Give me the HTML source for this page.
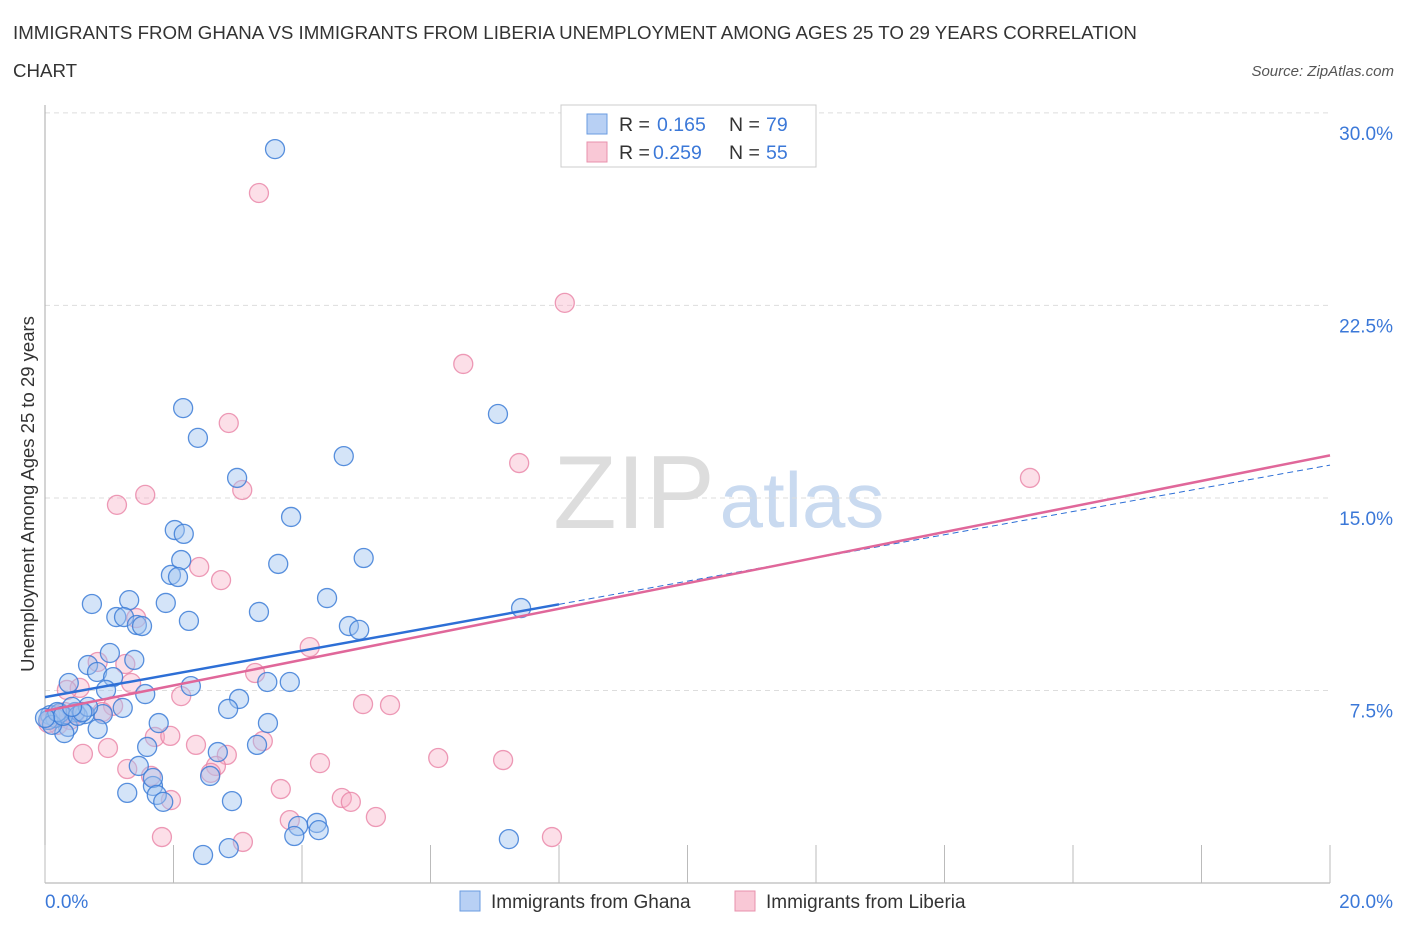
<!DOCTYPE html>
<html><head><meta charset="utf-8"><style>
body{margin:0;background:#fff;font-family:"Liberation Sans",sans-serif}
svg text{font-family:"Liberation Sans",sans-serif}
</style></head><body>
<svg id="c" width="1406" height="930">
<text x="13" y="39" font-size="18.7" fill="#333">IMMIGRANTS FROM GHANA VS IMMIGRANTS FROM LIBERIA UNEMPLOYMENT AMONG AGES 25 TO 29 YEARS CORRELATION</text>
<text x="13" y="77" font-size="18.7" fill="#333">CHART</text>
<text x="1394" y="76" font-size="15" fill="#555" font-style="italic" text-anchor="end">Source: ZipAtlas.com</text>
<text x="634" y="528" font-size="104" fill="#ddd" font-family="Liberation Serif" text-anchor="middle">ZIP</text>
<text x="802" y="527" font-size="78" fill="#c9daf0" text-anchor="middle">atlas</text>
<g id="grid"></g><g id="marks"></g>
<text transform="translate(34,494) rotate(-90)" font-size="18.5" fill="#333" text-anchor="middle">Unemployment Among Ages 25 to 29 years</text>
<text x="45" y="908" font-size="19" fill="#3b78d8">0.0%</text>
<text x="1393" y="908" font-size="19" fill="#3b78d8" text-anchor="end">20.0%</text>
<g>
<rect x="561" y="105" width="255" height="62" fill="#fff" stroke="#ccc"/>
<rect x="587" y="114" width="20" height="20" fill="#b8d0f4" stroke="#6a9be0"/>
<text x="619" y="131" font-size="19.5" fill="#333">R = </text><text x="657" y="131" font-size="19.5" fill="#3b78d8">0.165</text>
<text x="729" y="131" font-size="19.5" fill="#333">N = </text><text x="766" y="131" font-size="19.5" fill="#3b78d8">79</text>
<rect x="587" y="142" width="20" height="20" fill="#f9c8d6" stroke="#e891ac"/>
<text x="619" y="159" font-size="19.5" fill="#333">R = </text><text x="653" y="159" font-size="19.5" fill="#3b78d8">0.259</text>
<text x="729" y="159" font-size="19.5" fill="#333">N = </text><text x="766" y="159" font-size="19.5" fill="#3b78d8">55</text>
</g>
<g>
<rect x="460" y="891" width="20" height="20" fill="#b8d0f4" stroke="#6a9be0"/>
<text x="491" y="908" font-size="19" fill="#333">Immigrants from Ghana</text>
<rect x="735" y="891" width="20" height="20" fill="#f9c8d6" stroke="#e891ac"/>
<text x="766" y="908" font-size="19" fill="#333">Immigrants from Liberia</text>
</g>
</svg>
<script>
const yTicks=[7.5,15,22.5,30];
const yTickLabels=["7.5%","15.0%","22.5%","30.0%"];
const xTicks=[0,2,4,6,8,10,12,14,16,18,20];
const ghanaX=[3.58,2.15,2.38,2.99,3.83,4.65,7.05,2.02,2.16,2.12,1.96,2.07,3.63,4.96,0.73,1.31,1.88,1.11,1.23,1.43,1.51,2.24,3.33,4.39,4.73,4.89,7.41,1.01,1.39,0.67,0.81,0.37,1.06,0.95,1.56,2.27,3.02,3.46,3.81,2.85,1.21,0.90,0.62,0.47,0.36,0.82,0.30,1.77,3.47,1.59,2.69,3.30,1.46,1.68,1.68,1.28,1.74,1.84,2.57,2.91,3.94,4.23,4.26,3.88,7.22,2.46,2.86,0.08,0.16,0.23,0.05,0.11,0.19,0.28,0.51,0.67,0.58,0.42,0.0];
const ghanaY=[28.59,18.50,17.34,15.78,14.26,16.63,18.27,13.75,13.60,12.58,12.00,11.92,12.43,12.66,10.87,11.02,10.91,10.36,10.36,10.05,10.01,10.21,10.56,11.10,10.01,9.86,10.71,8.96,8.69,8.49,8.22,7.79,8.02,7.52,7.36,7.67,7.17,7.83,7.83,6.78,6.82,6.58,6.58,6.66,6.08,6.00,5.84,6.23,6.23,5.30,5.10,5.38,4.56,3.78,4.09,3.51,3.43,3.16,4.17,3.19,2.22,2.34,2.06,1.83,1.71,1.09,1.36,6.54,6.43,6.62,6.35,6.16,6.66,6.51,6.51,6.86,6.66,6.86,6.43];
const liberiaX=[3.33,8.09,6.51,2.86,1.12,1.56,3.07,7.38,15.33,2.40,2.74,1.42,4.12,1.25,0.82,0.54,1.34,3.27,2.12,4.95,5.37,1.06,0.34,0.89,1.71,1.95,0.59,0.98,2.35,3.39,2.83,2.66,2.58,1.28,1.65,4.28,6.12,7.13,3.67,1.96,4.62,4.76,5.15,3.81,1.82,3.08,7.89,0.08,0.16,0.23,0.31,0.39,0.20,0.05,0.47];
const liberiaY=[26.88,22.60,20.22,17.92,14.73,15.12,15.31,16.36,15.78,12.31,11.80,10.32,9.19,8.53,8.61,7.60,7.79,8.18,7.28,6.97,6.93,6.90,7.52,6.66,5.69,5.73,5.03,5.26,5.38,5.53,4.99,4.56,4.29,4.44,4.17,4.67,4.87,4.79,3.66,3.23,3.31,3.16,2.57,2.45,1.79,1.60,1.79,6.35,6.54,6.43,6.66,6.35,6.16,6.23,6.62];
const ghanaTrend=[7.24,0.452];
const liberiaTrend=[6.70,0.498];
const X0=45,X1=1330,Y0=883,YPER=25.67;
const sx=v=>X0+(X1-X0)*v/20, sy=v=>Y0-v*YPER;
const NS="http://www.w3.org/2000/svg";
function mk(t,a,p){const e=document.createElementNS(NS,t);for(const k in a)e.setAttribute(k,a[k]);p.appendChild(e);return e;}
const grid=document.getElementById('grid'),marks=document.getElementById('marks');
yTicks.forEach((v,i)=>{
 const l=mk('line',{x1:X0,x2:X1,y1:sy(v),y2:sy(v),stroke:'#ddd','stroke-dasharray':'5,4'},grid);
 
 
 const t=mk('text',{x:1393,y:sy(v)+27,'font-size':19,fill:'#3b78d8','text-anchor':'end'},grid);
 t.textContent=yTickLabels[i];
 
 
});
mk('line',{x1:X0,x2:X0,y1:105,y2:Y0,stroke:'#aaa'},grid);
mk('line',{x1:X0,x2:X1,y1:Y0,y2:Y0,stroke:'#aaa'},grid);
xTicks.forEach(v=>{const t=mk('line',{x1:sx(v),x2:sx(v),y1:845,y2:Y0,stroke:'#bbb'},grid);
 
 });
function pts(xs,ys,fill,stroke,name){xs.forEach((x,i)=>{const c=mk('circle',{cx:sx(x),cy:sy(ys[i]),r:9.5,fill:fill,stroke:stroke,'stroke-width':1.3},marks);
 
 });}
pts(liberiaX,liberiaY,'rgba(246,170,195,0.38)','rgba(232,130,165,0.8)','liberia-point');
pts(ghanaX,ghanaY,'rgba(160,195,240,0.45)','rgba(60,125,215,0.85)','ghana-point');
const gy=x=>ghanaTrend[0]+ghanaTrend[1]*x, ly=x=>liberiaTrend[0]+liberiaTrend[1]*x;
let l1=mk('line',{x1:sx(0),y1:sy(gy(0)),x2:sx(8),y2:sy(gy(8)),stroke:'#2d6fd6','stroke-width':2.5},marks);


let l2=mk('line',{x1:sx(8),y1:sy(gy(8)),x2:sx(20),y2:sy(gy(20)),stroke:'#2d6fd6','stroke-width':1,'stroke-dasharray':'6,4'},marks);


let l3=mk('line',{x1:sx(0),y1:sy(ly(0)),x2:sx(20),y2:sy(ly(20)),stroke:'#e0679a','stroke-width':2.5},marks);


</script>
</body></html>
